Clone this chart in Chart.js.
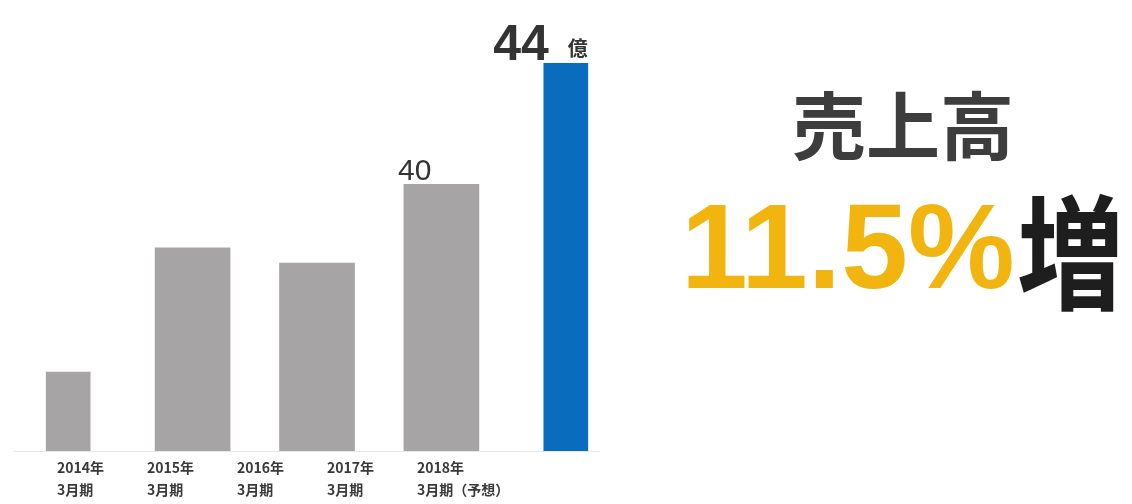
<!DOCTYPE html>
<html lang="ja">
<head>
<meta charset="UTF-8">
<title>売上高</title>
<style>
    html, body { margin: 0; padding: 0; background: #fff; }
    body { width: 1132px; height: 504px; position: relative; overflow: hidden; font-family: "Noto Sans CJK JP", sans-serif; }
    .chart-box { position: absolute; left: 0; top: 0; width: 640px; height: 504px; }
    .headline { position: absolute; left: 792px; top: 85px; font-size: 74px; font-weight: 700; color: #3d3d3d; line-height: 1; }
    .pct { position: absolute; left: 681px; top: 186px; font-family: "Liberation Sans", Arial, sans-serif; font-weight: 700; font-size: 120px; line-height: 1; color: #f2b50f; letter-spacing: 0; white-space: nowrap; }
    .up { position: absolute; left: 1017px; top: 184px; font-weight: 700; font-size: 124px; line-height: 1; color: #1e1e1e; transform: scaleX(0.86); transform-origin: left top; }
</style>
</head>
<body>
<div class="chart-box"><canvas id="salesChart"></canvas></div>
<div class="headline">売上高</div>
<div class="pct">11.5%</div>
<div class="up">増</div>

<script src="https://cdn.jsdelivr.net/npm/chart.js"></script>
<script>
    // Fiscal years (March year-end) and sales in 億円
    const categories = [
        ['2014年', '3月期'],
        ['2015年', '3月期'],
        ['2016年', '3月期'],
        ['2017年', '3月期'],
        ['2018年', '3月期（予想）']
    ];
    const sales = [33.8, 37.9, 37.4, 40, 44];
    const narrowBars = [0, 4];     // drawn slimmer than the rest
    const forecastIndex = 4;       // highlighted in blue
    const labelledBars = [3, 4];   // value written above the bar
    const unit = '億';
    const yMin = 31.2;
    const yMax = 44;

    const GRAY = '#a7a4a6';
    const BLUE = '#0a6cbc';

    const barColor = ctx => ctx.dataIndex === forecastIndex ? BLUE : GRAY;

    // value text above selected bars
    const barLabels = {
        id: 'barLabels',
        afterDatasetsDraw(chart) {
            const ctx = chart.ctx;
            labelledBars.forEach(i => {
                const dsIndex = narrowBars.includes(i) ? 0 : 1;
                const bar = chart.getDatasetMeta(dsIndex).data[i];
                const text = String(sales[i]);
                ctx.save();
                ctx.fillStyle = '#333';
                ctx.textBaseline = 'alphabetic';
                if (i === forecastIndex) {
                    ctx.font = '700 50px "Liberation Sans", Arial, sans-serif';
                    ctx.textAlign = 'right';
                    ctx.fillText(text, bar.x - 17, bar.y - 3);
                    ctx.font = '700 20px "Noto Sans CJK JP", sans-serif';
                    ctx.textAlign = 'left';
                    ctx.fillText(unit, bar.x + 2, bar.y - 7);
                } else {
                    ctx.font = '400 30px "Liberation Sans", Arial, sans-serif';
                    ctx.textAlign = 'right';
                    ctx.fillText(text, bar.x - 10, bar.y - 4);
                }
                ctx.restore();
            });
        }
    };

    // baseline and the year labels underneath
    const yearLabels = {
        id: 'yearLabels',
        afterDraw(chart) {
            const ctx = chart.ctx;
            const area = chart.chartArea;
            ctx.save();
            ctx.strokeStyle = '#e8e8e8';
            ctx.lineWidth = 1;
            ctx.beginPath();
            ctx.moveTo(14, area.bottom + 0.5);
            ctx.lineTo(600, area.bottom + 0.5);
            ctx.stroke();

            ctx.fillStyle = '#3a3a3a';
            ctx.font = '700 14px "Noto Sans CJK JP", sans-serif';
            ctx.textAlign = 'left';
            ctx.textBaseline = 'middle';
            categories.forEach((lines, i) => {
                const x = 57 + i * 90;
                lines.forEach((line, j) => {
                    ctx.fillText(line, x, area.bottom + 17 + j * 22);
                });
            });
            ctx.restore();
        }
    };

    new Chart(document.getElementById('salesChart'), {
        type: 'bar',
        data: {
            labels: categories,
            datasets: [{
                data: sales.map((v, i) => narrowBars.includes(i) ? v : null),
                backgroundColor: barColor,
                barThickness: 44,
                grouped: false
            }, {
                data: sales.map((v, i) => narrowBars.includes(i) ? null : v),
                backgroundColor: barColor,
                barThickness: 75,
                grouped: false
            }]
        },
        options: {
            responsive: true,
            maintainAspectRatio: false,
            animation: false,
            layout: { padding: { left: 6, right: 12, top: 63, bottom: 53 } },
            plugins: {
                legend: { display: false },
                tooltip: { enabled: false }
            },
            scales: {
                x: { display: false },
                y: { display: false, min: yMin, max: yMax }
            }
        },
        plugins: [barLabels, yearLabels]
    });
</script>
</body>
</html>
